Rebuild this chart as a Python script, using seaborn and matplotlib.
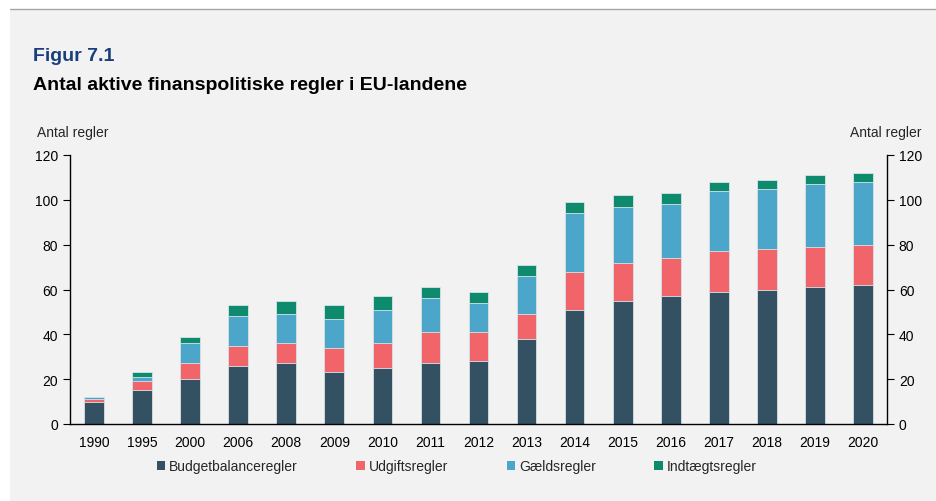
import numpy as np
import pandas as pd
import seaborn as sns
import matplotlib.pyplot as plt
from matplotlib.patches import Patch, Rectangle
from matplotlib.lines import Line2D

years = ['1990', '1995', '2000', '2006', '2008', '2009', '2010', '2011', '2012',
         '2013', '2014', '2015', '2016', '2017', '2018', '2019', '2020']
budget = [10, 15, 20, 26, 27, 23, 25, 27, 28, 38, 51, 55, 57, 59, 60, 61, 62]
udgift = [1, 4, 7, 9, 9, 11, 11, 14, 13, 11, 17, 17, 17, 18, 18, 18, 18]
gaeld = [1, 2, 9, 13, 13, 13, 15, 15, 13, 17, 26, 25, 24, 27, 27, 28, 28]
indtaegt = [0, 2, 3, 5, 6, 6, 6, 5, 5, 5, 5, 5, 5, 4, 4, 4, 4]

series = ['Budgetbalanceregler', 'Udgiftsregler', 'Gældsregler', 'Indtægtsregler']
colors = ['#345163', '#f0646a', '#4ba6c9', '#0e8a6c']

df = pd.DataFrame({'year': years, series[0]: budget, series[1]: udgift,
                   series[2]: gaeld, series[3]: indtaegt})
cum = df[series].cumsum(axis=1)

sns.set_style('white')
plt.rcParams['font.family'] = ['Liberation Sans', 'DejaVu Sans']

fig = plt.figure(figsize=(9.36, 5.02), dpi=100, facecolor='white')
fig.patches.append(Rectangle((10 / 936, 0), 1, 1 - 10 / 502, transform=fig.transFigure,
                             facecolor='#f2f2f2', edgecolor='none', zorder=-10))
fig.lines.append(Line2D([10 / 936, 1], [1 - 10 / 502, 1 - 10 / 502], transform=fig.transFigure,
                        color='#a6a6a6', lw=1))

ax = fig.add_axes([70 / 936, 1 - 425 / 502, 817 / 936, 269 / 502])
ax.set_facecolor('#f2f2f2')

# stacked bars: draw cumulative totals from the top layer down
for s, c in zip(series[::-1], colors[::-1]):
    sns.barplot(x=df['year'], y=cum[s], color=c, width=0.41, ax=ax,
                edgecolor='#d9e4e8', linewidth=0.6, saturation=1)

ax.set_ylim(0, 120)
ax.set_xlim(-0.5, len(years) - 0.5)
ax.set_yticks(range(0, 121, 20))
ax.set_xlabel('')
ax.set_ylabel('')
ax.set_xticks(np.arange(-0.5, len(years), 1), minor=True)
ax.tick_params(axis='x', which='major', length=0, labelsize=10, pad=8, colors='black')
ax.tick_params(axis='x', which='minor', length=5, direction='out', color='black')
ax.tick_params(axis='y', length=5, direction='out', left=True, right=True,
               labelleft=True, labelright=True, labelsize=10, colors='black')
for sp in ['left', 'right', 'bottom']:
    ax.spines[sp].set_visible(True)
    ax.spines[sp].set_color('black')
    ax.spines[sp].set_linewidth(1)
ax.spines['top'].set_visible(False)

fig.text(33 / 936, 1 - 61 / 502, 'Figur 7.1', fontsize=14, fontweight='bold',
         color='#1a3d7c', va='baseline')
fig.text(33 / 936, 1 - 90 / 502, 'Antal aktive finanspolitiske regler i EU-landene',
         fontsize=14, fontweight='bold', color='black', va='baseline')
fig.text(37 / 936, 1 - 133 / 502, 'Antal regler', fontsize=10, va='center')
fig.text(922 / 936, 1 - 133 / 502, 'Antal regler', fontsize=10, va='center', ha='right')

handles = [Patch(facecolor=c, edgecolor='none', label=s) for s, c in zip(series, colors)]
fig.legend(handles=handles, loc='center', bbox_to_anchor=(0.488, 1 - 467 / 502), ncol=4,
           frameon=False, fontsize=10, handlelength=0.6, handleheight=0.6,
           handletextpad=0.3, columnspacing=4.2)

fig.savefig('out.png', dpi=100)
